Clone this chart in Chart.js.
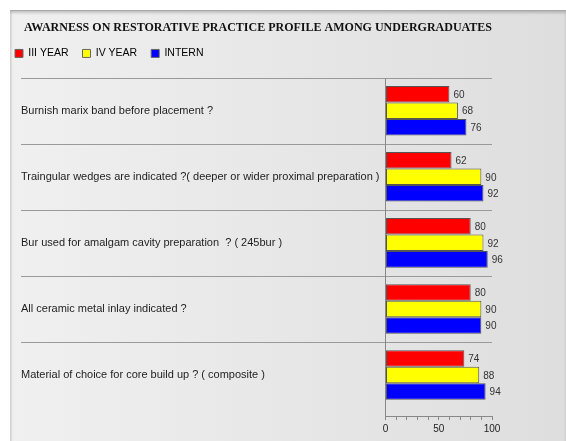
<!DOCTYPE html>
<html>
<head>
<meta charset="utf-8">
<script src="https://cdn.jsdelivr.net/npm/chart.js@4/dist/chart.umd.min.js"></script>
<style>
  html, body { margin: 0; padding: 0; background: #fff; }
  #panel {
    position: absolute; left: 10px; top: 10px; width: 556px; height: 431px;
    background: linear-gradient(to right, #f0f0f0, #dedede);
    border-top: 1px solid #a8a8a8;
    box-shadow: inset 0 2px 3px rgba(0,0,0,0.18), inset 2px 0 2px rgba(0,0,0,0.06);
  }
  #wrap { position: absolute; left: 0; top: 0; width: 566px; height: 441px; }
</style>
</head>
<body>
<div id="panel"></div>
<div id="wrap"><canvas id="chart" width="566" height="441"></canvas></div>
<script>
// chart data
const questions = [
  'Burnish marix band before placement ?',
  'Traingular wedges are indicated ?( deeper or wider proximal preparation )',
  'Bur used for amalgam cavity preparation  ? ( 245bur )',
  'All ceramic metal inlay indicated ?',
  'Material of choice for core build up ? ( composite )'
];
const seriesNames = ['III YEAR', 'IV YEAR', 'INTERN'];
const thirdYear = [60, 62, 80, 80, 74];
const fourthYear = [68, 90, 92, 90, 88];
const intern = [76, 92, 96, 90, 94];
const xTickLabels = [0, 50, 100];

const colors = ['#ff0000', '#ffff00', '#0000ff'];
const fontFamily = '"Liberation Sans", Arial, Helvetica, sans-serif';

function toPoints(values) {
  return values.map(function(v, i) { return { x: v, y: i }; });
}

// separators between rows, the vertical axis line and the question texts
const rowPlugin = {
  id: 'rows',
  beforeDatasetsDraw: function(chart) {
    const ctx = chart.ctx;
    const y = chart.scales.y;
    const area = chart.chartArea;
    const top = Math.round(y.getPixelForValue(-0.5)) + 0.5;
    ctx.save();
    ctx.strokeStyle = '#9a9a9a';
    ctx.lineWidth = 1.2;
    for (let i = 0; i < questions.length; i++) {
      const py = Math.round(y.getPixelForValue(i - 0.5)) + 0.5;
      ctx.beginPath();
      ctx.moveTo(21, py);
      ctx.lineTo(area.right, py);
      ctx.stroke();
    }
    ctx.strokeStyle = '#888';
    ctx.lineWidth = 1;
    const ax = Math.round(area.left) - 0.5;
    ctx.beginPath();
    ctx.moveTo(ax, top);
    ctx.lineTo(ax, area.bottom);
    ctx.stroke();

    ctx.fillStyle = '#1e1e1e';
    ctx.font = '11px ' + fontFamily;
    ctx.textAlign = 'left';
    ctx.textBaseline = 'middle';
    questions.forEach(function(q, i) {
      ctx.fillText(q, 21, y.getPixelForValue(i));
    });
    ctx.restore();
  }
};

// value printed at the end of each bar
const valuePlugin = {
  id: 'values',
  afterDatasetsDraw: function(chart) {
    const ctx = chart.ctx;
    ctx.save();
    ctx.fillStyle = '#333';
    ctx.font = '10px ' + fontFamily;
    ctx.textAlign = 'left';
    ctx.textBaseline = 'middle';
    chart.data.datasets.forEach(function(ds, di) {
      chart.getDatasetMeta(di).data.forEach(function(bar, i) {
        ctx.fillText(ds.data[i].x, bar.x + 4, bar.y + 1);
      });
    });
    ctx.restore();
  }
};

new Chart(document.getElementById('chart'), {
  type: 'bar',
  data: {
    datasets: [
      { label: seriesNames[0], data: toPoints(thirdYear), backgroundColor: colors[0] },
      { label: seriesNames[1], data: toPoints(fourthYear), backgroundColor: colors[1] },
      { label: seriesNames[2], data: toPoints(intern), backgroundColor: colors[2] }
    ]
  },
  options: {
    indexAxis: 'y',
    responsive: false,
    animation: false,
    events: [],
    layout: { padding: { left: 1, right: 74, top: 0, bottom: 3 } },
    datasets: {
      bar: {
        borderColor: '#555',
        borderWidth: 1,
        borderSkipped: false,
        categoryPercentage: 0.75,
        barPercentage: 1.0
      }
    },
    plugins: {
      title: {
        display: true,
        text: 'AWARNESS ON RESTORATIVE PRACTICE PROFILE AMONG UNDERGRADUATES',
        align: 'end',
        color: '#111',
        font: { family: '"Liberation Serif", "Times New Roman", serif', size: 12, weight: 'bold', lineHeight: 1.1 },
        padding: { top: 21, bottom: 0 }
      },
      legend: {
        display: true,
        align: 'start',
        labels: {
          boxWidth: 8,
          boxHeight: 8,
          padding: 14,
          color: '#222',
          font: { family: fontFamily, size: 10.5 },
          generateLabels: function(chart) {
            return chart.data.datasets.map(function(ds, i) {
              return {
                text: ds.label,
                fillStyle: ds.backgroundColor,
                strokeStyle: '#666',
                lineWidth: 1,
                datasetIndex: i
              };
            });
          }
        }
      },
      tooltip: { enabled: false }
    },
    scales: {
      x: {
        type: 'linear',
        min: 0,
        max: 100,
        ticks: {
          stepSize: 10,
          autoSkip: false,
          maxRotation: 0,
          padding: 3,
          color: '#222',
          font: { family: fontFamily, size: 10 },
          callback: function(v) {
            return xTickLabels.indexOf(v) >= 0 ? String(v) : '';
          }
        },
        grid: { drawOnChartArea: false, drawTicks: true, tickLength: 4, color: '#888' },
        border: { display: true, color: '#888', width: 1 }
      },
      y: {
        type: 'linear',
        reverse: true,
        offset: false,
        bounds: 'data',
        min: -0.635,
        max: 4.62,
        afterBuildTicks: function(scale) {
          scale.ticks = questions.map(function(q, i) { return { value: i }; });
        },
        afterFit: function(scale) {
          scale.width = 384.5;
        },
        ticks: { display: false },
        grid: { display: false, drawTicks: false, offset: false },
        border: { display: false }
      }
    }
  },
  plugins: [rowPlugin, valuePlugin]
});
</script>
</body>
</html>
